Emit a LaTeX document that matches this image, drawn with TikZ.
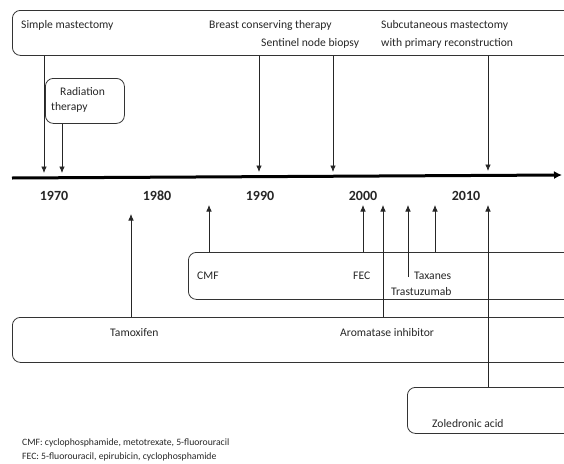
\documentclass[tikz,border=0pt]{standalone}
\usepackage{fontspec}
\setmainfont{Carlito}
\usetikzlibrary{arrows.meta}
\begin{document}
\begin{tikzpicture}[x=1pt,y=-1pt,
 box/.style={draw=black!80, rounded corners=8pt, line width=0.8pt, anchor=north west, inner sep=0},
 lbl/.style={font=\fontsize{11.6}{13}\selectfont, inner sep=0, anchor=west, text=black!85},
 yr/.style={font=\fontsize{14}{16}\selectfont\bfseries, inner sep=0, text=black!85},
 note/.style={font=\fontsize{9.7}{11}\selectfont, inner sep=0, anchor=west, text=black!85},
 arr/.style={-{Latex[length=6.5pt,width=5.5pt]}, line width=0.7pt, draw=black!85},
 axis/.style={-{Latex[length=8pt,width=8pt]}, line width=3pt, draw=black},
 ]
\useasboundingbox (0,0) rectangle (564,463);
\clip (0,0) rectangle (564,463);
% boxes
\node[box, minimum width=590pt, minimum height=45pt] (top) at (12,10) {};
\node[box, minimum width=79pt, minimum height=45pt] (rad) at (45,78) {};
\node[box, minimum width=400pt, minimum height=47pt] (cmf) at (188,252) {};
\node[box, minimum width=590pt, minimum height=45pt] (tam) at (12,317) {};
\node[box, minimum width=170pt, minimum height=46pt] (zol) at (407,387) {};
% axis
\coordinate (ax0) at (12,178);
\coordinate (ax1) at (562,175);
\draw[axis] (ax0) -- (ax1);
% axis points (down arrows)
\coordinate (d1) at (44,173);
\coordinate (d2) at (62,173);
\coordinate (d3) at (259,172);
\coordinate (d4) at (333,172);
\coordinate (d5) at (488,171);
% up arrow tips
\coordinate (u1) at (131,214);
\coordinate (u2) at (209,205);
\coordinate (u3) at (363,205);
\coordinate (u4) at (383,205);
\coordinate (u5) at (408,205);
\coordinate (u6) at (435,205);
\coordinate (u7) at (488,205);
\coordinate (u5s) at (408,277);
% texts
\node[lbl] (t1) at (21,25) {Simple mastectomy};
\node[lbl] (t2) at (209,25) {Breast conserving therapy};
\node[lbl] (t3) at (261,43) {Sentinel node biopsy};
\node[lbl] (t4) at (381,25) {Subcutaneous mastectomy};
\node[lbl] (t5) at (381,43) {with primary reconstruction};
\node[lbl] (r1) at (60,92) {Radiation};
\node[lbl] (r2) at (51,107) {therapy};
\node[yr] (y1) at (54,196) {1970};
\node[yr] (y2) at (157,196) {1980};
\node[yr] (y3) at (260,196) {1990};
\node[yr] (y4) at (363,196) {2000};
\node[yr] (y5) at (466,196) {2010};
\node[lbl] (c1) at (197,276) {CMF};
\node[lbl] (c2) at (353,276) {FEC};
\node[lbl] (c3) at (414,276) {Taxanes};
\node[lbl] (c4) at (391,292) {Trastuzumab};
\node[lbl] (m1) at (110,333) {Tamoxifen};
\node[lbl] (m2) at (340,333) {Aromatase inhibitor};
\node[lbl] (z1) at (432,424) {Zoledronic acid};
\node[note] (n1) at (22,443) {CMF: cyclophosphamide, metotrexate, 5-fluorouracil};
\node[note] (n2) at (22,457) {FEC: 5-fluorouracil, epirubicin, cyclophosphamide};
% down arrows
\draw[arr] (top.south -| d1) -- (d1);
\draw[arr] (rad.south -| d2) -- (d2);
\draw[arr] (top.south -| d3) -- (d3);
\draw[arr] (top.south -| d4) -- (d4);
\draw[arr] (top.south -| d5) -- (d5);
% up arrows
\draw[arr] (tam.north -| u1) -- (u1);
\draw[arr] (cmf.north -| u2) -- (u2);
\draw[arr] (cmf.north -| u3) -- (u3);
\draw[arr] (tam.north -| u4) -- (u4);
\draw[arr] (u5s) -- (u5);
\draw[arr] (cmf.north -| u6) -- (u6);
\draw[arr] (zol.north -| u7) -- (u7);
\end{tikzpicture}
\end{document}
